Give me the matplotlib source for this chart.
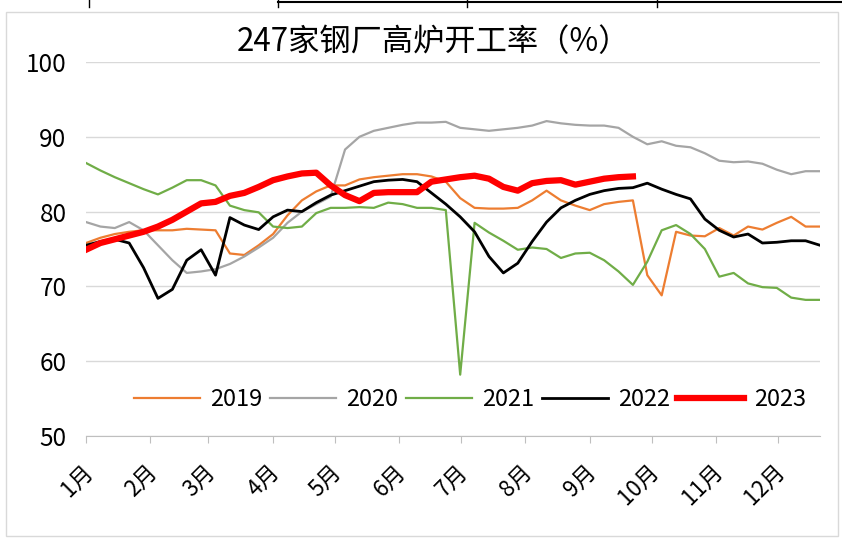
import numpy as np
import matplotlib
matplotlib.use("Agg")
import matplotlib.pyplot as plt
from matplotlib.lines import Line2D
from matplotlib.patches import Rectangle

plt.rcParams['font.family'] = ['Noto Sans CJK SC', 'DejaVu Sans']

# 周度数据（每年52周）
y2019 = [75.8, 76.5, 77.0, 77.3, 77.5, 77.5, 77.5, 77.7, 77.6, 77.5, 74.4, 74.2, 75.5,
         77.0, 79.5, 81.5, 82.7, 83.5, 83.5, 84.3, 84.6, 84.8, 85.0, 85.0, 84.7, 84.0,
         81.8, 80.5, 80.4, 80.4, 80.5, 81.5, 82.8, 81.5, 80.8, 80.2, 81.0, 81.3, 81.5,
         71.5, 68.8, 77.3, 76.8, 76.7, 77.8, 76.8, 78.0, 77.6, 78.5, 79.3, 78.0, 78.0]
y2020 = [78.6, 78.0, 77.8, 78.6, 77.5, 75.5, 73.5, 71.8, 72.0, 72.3, 73.0, 74.0, 75.2,
         76.5, 78.5, 80.0, 81.0, 82.0, 88.3, 90.0, 90.8, 91.2, 91.6, 91.9, 91.9, 92.0,
         91.2, 91.0, 90.8, 91.0, 91.2, 91.5, 92.1, 91.8, 91.6, 91.5, 91.5, 91.2, 90.0,
         89.0, 89.4, 88.8, 88.6, 87.8, 86.8, 86.6, 86.7, 86.4, 85.6, 85.0, 85.4, 85.4]
y2021 = [86.5, 85.5, 84.6, 83.8, 83.0, 82.3, 83.2, 84.2, 84.2, 83.5, 80.8, 80.2, 79.9,
         78.0, 77.8, 78.0, 79.8, 80.5, 80.5, 80.6, 80.5, 81.2, 81.0, 80.5, 80.5, 80.2,
         58.2, 78.5, 77.2, 76.1, 74.9, 75.2, 75.0, 73.8, 74.4, 74.5, 73.5, 72.0, 70.2,
         73.3, 77.5, 78.2, 77.0, 75.0, 71.3, 71.8, 70.4, 69.9, 69.8, 68.5, 68.2, 68.2]
y2022 = [75.5, 76.0, 76.3, 75.8, 72.5, 68.4, 69.6, 73.5, 74.9, 71.5, 79.2, 78.2, 77.6,
         79.3, 80.2, 80.0, 81.2, 82.2, 82.8, 83.4, 84.0, 84.2, 84.3, 84.0, 82.5, 81.0,
         79.3, 77.3, 74.0, 71.8, 73.1, 76.0, 78.6, 80.5, 81.5, 82.3, 82.8, 83.1, 83.2,
         83.8, 83.0, 82.3, 81.7, 79.0, 77.5, 76.6, 77.0, 75.8, 75.9, 76.1, 76.1, 75.5]
y2023 = [74.9, 75.8, 76.3, 76.8, 77.3, 78.0, 78.9, 80.0, 81.1, 81.3, 82.1, 82.5, 83.3,
         84.2, 84.7, 85.1, 85.2, 83.5, 82.2, 81.4, 82.5, 82.6, 82.6, 82.6, 84.0, 84.3,
         84.6, 84.8, 84.4, 83.3, 82.8, 83.8, 84.1, 84.2, 83.6, 84.0, 84.4, 84.6, 84.7]

years = ['2019', '2020', '2021', '2022', '2023']
months = ['1月', '2月', '3月', '4月', '5月', '6月', '7月', '8月', '9月', '10月', '11月', '12月']
month_start_day = [0, 31, 59, 90, 120, 151, 181, 212, 243, 273, 304, 334]

colors = ['#ED7D31', '#A5A5A5', '#70AD47', '#000000', '#FF0000']
widths = [1.6, 1.6, 1.6, 2.0, 4.5]

W, H = 842, 542
fig = plt.figure(figsize=(W / 100, H / 100), dpi=100)
ax = fig.add_axes([86 / W, 1 - 436 / H, (820 - 86) / W, (436 - 62) / H])

for data, c, lw, lab in zip([y2019, y2020, y2021, y2022, y2023], colors, widths, years):
    ax.plot(np.arange(len(data)), data, color=c, lw=lw, label=lab,
            solid_joinstyle='round', zorder=3)

ax.set_xlim(0, 51)
ax.set_ylim(50, 100)
ax.set_yticks(range(50, 101, 10))
ax.yaxis.grid(True, color='#D9D9D9', lw=1.0)
ax.set_axisbelow(True)
for s in ['left', 'right', 'top']:
    ax.spines[s].set_visible(False)
ax.spines['bottom'].set_color('#BFBFBF')
ax.tick_params(axis='y', length=0, pad=14, labelsize=17.5, colors='#000000')

ticks = np.array(month_start_day) / 7.0 * 1.008
ax.set_xticks(ticks)
ax.set_xticklabels([])
ax.tick_params(axis='x', length=5, color='#BFBFBF', direction='out')
for t, m in zip(ticks, months):
    ax.annotate(m, xy=(t, 50), xycoords='data', xytext=(-5, -24), textcoords='offset pixels',
                rotation=45, ha='right', va='top', rotation_mode='anchor', fontsize=16)

leg = ax.legend(loc='center', bbox_to_anchor=((470 - 86) / 734, (436 - 400) / 374), ncol=5,
                frameon=False, fontsize=17, handlelength=2.8, handletextpad=0.45,
                columnspacing=0.3, borderaxespad=0)
leg.set_zorder(5)

fig.text(433 / W, 1 - 42 / H, '247家钢厂高炉开工率（%）', ha='center', va='center', fontsize=22.5)

# 图表外框与顶部表格线
fig.patches.append(Rectangle((6 / W, 1 - 536 / H), (838 - 6) / W, (536 - 12) / H,
                             transform=fig.transFigure, fill=False, ec='#D9D9D9', lw=1))
fig.lines.append(Line2D([278 / W, 1], [1 - 2 / H, 1 - 2 / H], transform=fig.transFigure,
                        color='black', lw=1.5))
for xp in [89, 278, 467, 657]:
    fig.lines.append(Line2D([xp / W, xp / W], [1, 1 - 7 / H], transform=fig.transFigure,
                            color='black', lw=1))

fig.savefig('out.png', dpi=100)
